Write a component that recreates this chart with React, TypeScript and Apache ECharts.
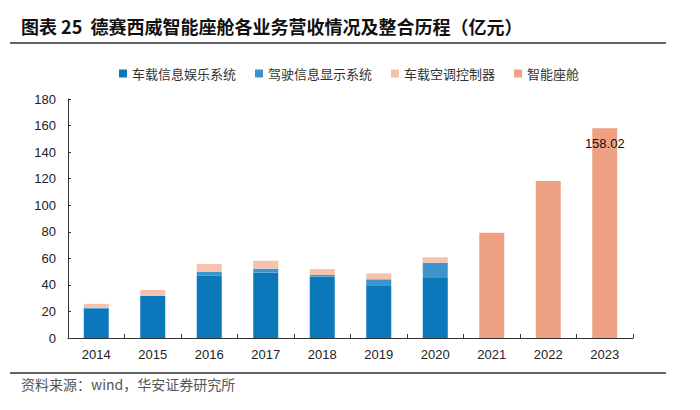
import React, { useEffect, useRef } from "react";
import * as echarts from "echarts";

const years = ["2014", "2015", "2016", "2017", "2018", "2019", "2020", "2021", "2022", "2023"];
const infotainment = [22, 31.6, 47, 49.2, 46.2, 39.7, 45.2, null, null, null];
const display = [0.7, 0.3, 2.8, 3, 1.3, 4.5, 11.5, null, null, null];
const climate = [3, 4.3, 6, 6, 4.4, 4.5, 4.1, null, null, null];
const cockpit = [null, null, null, null, null, null, null, 79.3, 118.2, 158.02];
const seriesNames = ["车载信息娱乐系统", "驾驶信息显示系统", "车载空调控制器", "智能座舱"];
const colors = ["#0B78BC", "#3C94CD", "#F5C2AD", "#EEA283"];
const yTicks = { min: 0, max: 180, interval: 20 };

const titleText = "图表 25  德赛西威智能座舱各业务营收情况及整合历程（亿元）";
const sourceText = "资料来源：wind，华安证券研究所";

export default function App() {
  const ref = useRef<HTMLDivElement>(null);
  useEffect(() => {
    if (!ref.current) return;
    const chart = echarts.init(ref.current, undefined, { renderer: "svg" });
    const cjk = '"Noto Sans CJK SC", sans-serif';
    const num = '"Liberation Sans", Arial, sans-serif';
    const lastIdx = cockpit.length - 1;
    chart.setOption({
      animation: false,
      backgroundColor: "#fff",
      color: colors,
      grid: { left: 68, right: 67, top: 99, bottom: 72, containLabel: false },
      legend: {
        top: 62,
        left: 114,
        itemWidth: 8,
        itemHeight: 8,
        itemGap: 19,
        icon: "rect",
        textStyle: { fontFamily: cjk, fontSize: 13, color: "#333" },
        data: seriesNames,
      },
      xAxis: {
        type: "category",
        data: years,
        axisLine: { show: true, lineStyle: { color: "#333", width: 1 } },
        axisTick: { show: true, inside: true, length: 4, lineStyle: { color: "#333" } },
        axisLabel: { fontFamily: num, fontSize: 13, color: "#222", margin: 10 },
      },
      yAxis: {
        type: "value",
        min: yTicks.min,
        max: yTicks.max,
        interval: yTicks.interval,
        splitLine: { show: false },
        axisLine: { show: true, lineStyle: { color: "#333", width: 1 } },
        axisTick: { show: true, inside: true, length: 3, lineStyle: { color: "#333" } },
        axisLabel: { fontFamily: num, fontSize: 13, color: "#222", margin: 12 },
      },
      series: [
        { name: seriesNames[0], type: "bar", stack: "a", barWidth: 25, data: infotainment },
        { name: seriesNames[1], type: "bar", stack: "a", barWidth: 25, data: display },
        { name: seriesNames[2], type: "bar", stack: "a", barWidth: 25, data: climate },
        {
          name: seriesNames[3],
          type: "bar",
          stack: "a",
          barWidth: 25,
          data: cockpit.map((v, i) =>
            i === lastIdx
              ? {
                  value: v,
                  label: {
                    show: true,
                    position: "insideTop",
                    distance: 9,
                    color: "#111",
                    fontFamily: num,
                    fontSize: 13,
                    formatter: (p: any) => Number(p.value).toFixed(2),
                  },
                }
              : v
          ),
        },
      ],
      graphic: [
        {
          type: "text",
          left: 21,
          top: 17,
          style: { text: titleText, fontFamily: cjk, fontSize: 18, fontWeight: "bold", fill: "#111" },
        },
        { type: "line", shape: { x1: 10, y1: 43, x2: 666, y2: 43 }, style: { stroke: "#333", lineWidth: 1.5 } },
        { type: "line", shape: { x1: 10, y1: 373, x2: 666, y2: 373 }, style: { stroke: "#333", lineWidth: 1.5 } },
        {
          type: "text",
          left: 21,
          top: 377,
          style: { text: sourceText, fontFamily: cjk, fontSize: 14, fill: "#555" },
        },
      ],
    });
    return () => chart.dispose();
  }, []);
  return (
    <div
      ref={ref}
      style={{ position: "fixed", left: 0, top: 0, width: 700, height: 410, background: "#fff" }}
    />
  );
}
